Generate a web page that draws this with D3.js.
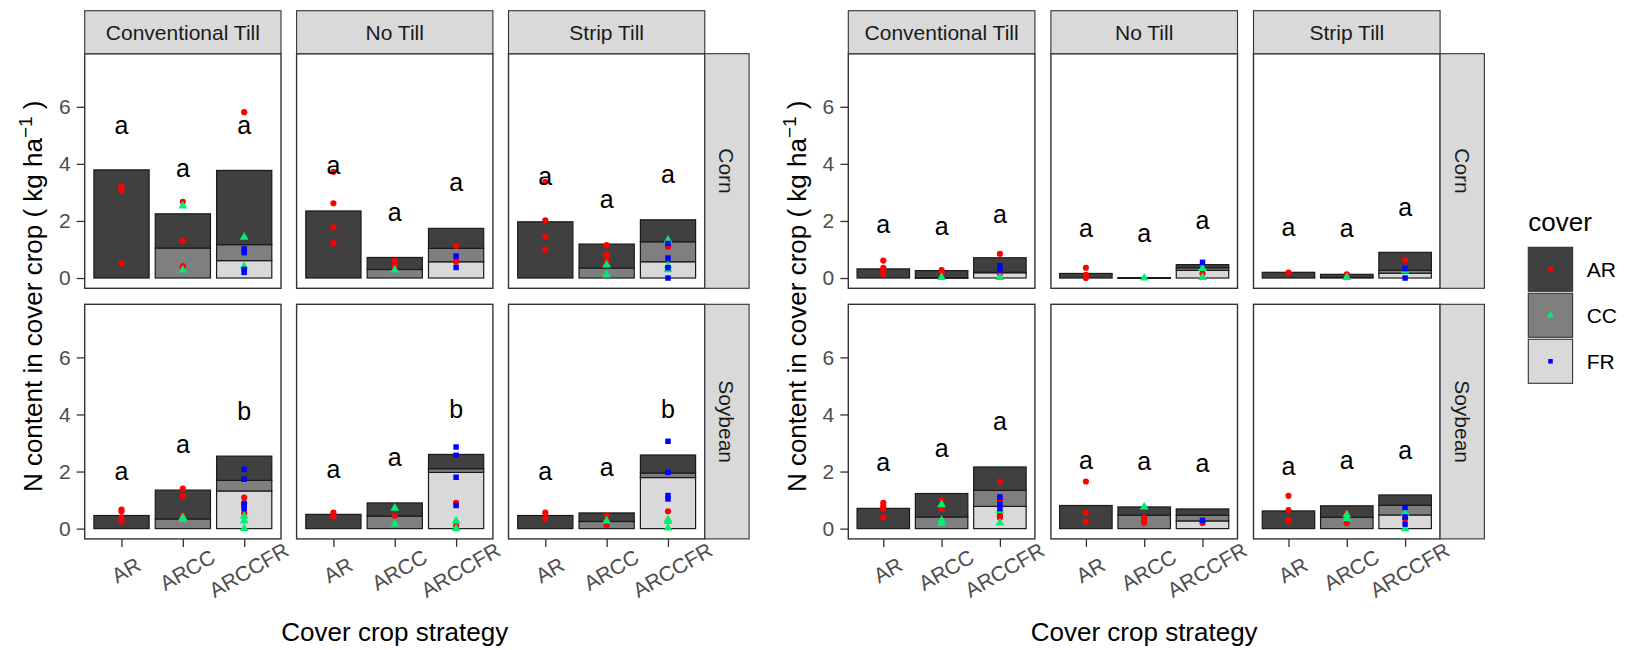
<!DOCTYPE html>
<html lang="en">
<head>
<meta charset="UTF-8">
<title>N content in cover crop</title>
<script src="https://cdn.jsdelivr.net/npm/d3@7"></script>
<style>
    html, body {
        margin: 0;
        background: #fff;
    }
    svg text {
        font-family: "Liberation Sans", Arial, sans-serif;
    }
</style>
</head>
<body>
<div id="chart"></div>
<script>
    // ---- data ----
    const strategies = ["AR", "ARCC", "ARCCFR"];
    const tillages = ["Conventional Till", "No Till", "Strip Till"];
    const tillCodes = ["CT", "NT", "ST"];
    const crops = ["Corn", "Soybean"];
    const covers = ["AR", "CC", "FR"];
    const yTicks = [0, 2, 4, 6];

    // stacked bar pieces: [figure, crop, tillage, strategy, AR, CC, FR]
    const barRows = [
        [0, "Corn", "CT", "AR", 3.79, 0, 0],
        [0, "Corn", "CT", "ARCC", 1.20, 1.05, 0],
        [0, "Corn", "CT", "ARCCFR", 2.60, 0.56, 0.61],
        [0, "Corn", "NT", "AR", 2.35, 0, 0],
        [0, "Corn", "NT", "ARCC", 0.42, 0.30, 0],
        [0, "Corn", "NT", "ARCCFR", 0.70, 0.47, 0.57],
        [0, "Corn", "ST", "AR", 1.97, 0, 0],
        [0, "Corn", "ST", "ARCC", 0.84, 0.35, 0],
        [0, "Corn", "ST", "ARCCFR", 0.77, 0.70, 0.57],
        [0, "Soybean", "CT", "AR", 0.46, 0, 0],
        [0, "Soybean", "CT", "ARCC", 1.01, 0.34, 0],
        [0, "Soybean", "CT", "ARCCFR", 0.85, 0.37, 1.32],
        [0, "Soybean", "NT", "AR", 0.50, 0, 0],
        [0, "Soybean", "NT", "ARCC", 0.46, 0.44, 0],
        [0, "Soybean", "NT", "ARCCFR", 0.50, 0.13, 1.97],
        [0, "Soybean", "ST", "AR", 0.46, 0, 0],
        [0, "Soybean", "ST", "ARCC", 0.30, 0.25, 0],
        [0, "Soybean", "ST", "ARCCFR", 0.63, 0.16, 1.79],
        [1, "Corn", "CT", "AR", 0.32, 0, 0],
        [1, "Corn", "CT", "ARCC", 0.25, 0.01, 0],
        [1, "Corn", "CT", "ARCCFR", 0.51, 0.01, 0.19],
        [1, "Corn", "NT", "AR", 0.16, 0, 0],
        [1, "Corn", "NT", "ARCC", 0.01, 0.005, 0],
        [1, "Corn", "NT", "ARCCFR", 0.11, 0.09, 0.27],
        [1, "Corn", "ST", "AR", 0.20, 0, 0],
        [1, "Corn", "ST", "ARCC", 0.11, 0.02, 0],
        [1, "Corn", "ST", "ARCCFR", 0.63, 0.10, 0.17],
        [1, "Soybean", "CT", "AR", 0.71, 0, 0],
        [1, "Soybean", "CT", "ARCC", 0.82, 0.41, 0],
        [1, "Soybean", "CT", "ARCCFR", 0.82, 0.56, 0.78],
        [1, "Soybean", "NT", "AR", 0.81, 0, 0],
        [1, "Soybean", "NT", "ARCC", 0.29, 0.47, 0],
        [1, "Soybean", "NT", "ARCCFR", 0.22, 0.20, 0.27],
        [1, "Soybean", "ST", "AR", 0.62, 0, 0],
        [1, "Soybean", "ST", "ARCC", 0.40, 0.40, 0],
        [1, "Soybean", "ST", "ARCCFR", 0.36, 0.34, 0.48]
    ];

    // single observations: [figure, crop, tillage, strategy, cover, values]
    const obsRows = [
        [0, "Corn", "CT", "AR", "AR", [3.22, 3.06, 0.51]],
        [0, "Corn", "CT", "ARCC", "AR", [2.67, 1.30, 0.42, 0.36]],
        [0, "Corn", "CT", "ARCC", "CC", [2.53, 0.28]],
        [0, "Corn", "CT", "ARCCFR", "AR", [5.81, 0.98]],
        [0, "Corn", "CT", "ARCCFR", "CC", [1.43, 0.40]],
        [0, "Corn", "CT", "ARCCFR", "FR", [1.02, 0.89, 0.30, 0.20]],
        [0, "Corn", "NT", "AR", "AR", [3.72, 2.62, 1.78, 1.22]],
        [0, "Corn", "NT", "ARCC", "AR", [0.60, 0.42]],
        [0, "Corn", "NT", "ARCC", "CC", [0.28]],
        [0, "Corn", "NT", "ARCCFR", "AR", [1.13, 0.63, 0.57]],
        [0, "Corn", "NT", "ARCCFR", "FR", [0.77, 0.37]],
        [0, "Corn", "ST", "AR", "AR", [3.37, 2.02, 1.45, 0.99]],
        [0, "Corn", "ST", "ARCC", "AR", [1.15, 0.83, 0.77, 0.57]],
        [0, "Corn", "ST", "ARCC", "CC", [0.46, 0.11]],
        [0, "Corn", "ST", "ARCCFR", "AR", [1.10]],
        [0, "Corn", "ST", "ARCCFR", "CC", [1.33, 0.43, 0.29]],
        [0, "Corn", "ST", "ARCCFR", "FR", [1.21, 0.70, 0.36, 0.0]],
        [0, "Soybean", "CT", "AR", "AR", [0.67, 0.60, 0.39, 0.25]],
        [0, "Soybean", "CT", "ARCC", "AR", [1.40, 1.14, 0.46]],
        [0, "Soybean", "CT", "ARCC", "CC", [0.39, 0.32]],
        [0, "Soybean", "CT", "ARCCFR", "AR", [1.09, 0.90, 0.53]],
        [0, "Soybean", "CT", "ARCCFR", "CC", [0.44, 0.27, 0.0]],
        [0, "Soybean", "CT", "ARCCFR", "FR", [2.08, 1.73, 0.86, 0.80, 0.70]],
        [0, "Soybean", "NT", "AR", "AR", [0.56, 0.43]],
        [0, "Soybean", "NT", "ARCC", "AR", [0.46]],
        [0, "Soybean", "NT", "ARCC", "CC", [0.72, 0.16]],
        [0, "Soybean", "NT", "ARCCFR", "AR", [0.90, 0.10]],
        [0, "Soybean", "NT", "ARCCFR", "CC", [0.27, 0.0]],
        [0, "Soybean", "NT", "ARCCFR", "FR", [2.86, 2.57, 1.80, 0.81]],
        [0, "Soybean", "ST", "AR", "AR", [0.56, 0.35]],
        [0, "Soybean", "ST", "ARCC", "AR", [0.46, 0.12]],
        [0, "Soybean", "ST", "ARCC", "CC", [0.27]],
        [0, "Soybean", "ST", "ARCCFR", "AR", [0.61]],
        [0, "Soybean", "ST", "ARCCFR", "CC", [0.32, 0.25, 0.02]],
        [0, "Soybean", "ST", "ARCCFR", "FR", [3.06, 1.97, 1.16, 1.04]],
        [1, "Corn", "CT", "AR", "AR", [0.61, 0.36, 0.25, 0.13]],
        [1, "Corn", "CT", "ARCC", "AR", [0.28, 0.19]],
        [1, "Corn", "CT", "ARCC", "CC", [0.02]],
        [1, "Corn", "CT", "ARCCFR", "AR", [0.85, 0.16]],
        [1, "Corn", "CT", "ARCCFR", "CC", [0.02]],
        [1, "Corn", "CT", "ARCCFR", "FR", [0.43, 0.28]],
        [1, "Corn", "NT", "AR", "AR", [0.36, 0.11, 0.0]],
        [1, "Corn", "NT", "ARCC", "CC", [0.0]],
        [1, "Corn", "NT", "ARCCFR", "AR", [0.16]],
        [1, "Corn", "NT", "ARCCFR", "CC", [0.34, 0.02]],
        [1, "Corn", "NT", "ARCCFR", "FR", [0.55]],
        [1, "Corn", "ST", "AR", "AR", [0.19]],
        [1, "Corn", "ST", "ARCC", "AR", [0.13]],
        [1, "Corn", "ST", "ARCC", "CC", [0.02]],
        [1, "Corn", "ST", "ARCCFR", "AR", [0.63]],
        [1, "Corn", "ST", "ARCCFR", "CC", [0.25]],
        [1, "Corn", "ST", "ARCCFR", "FR", [0.33, 0.0]],
        [1, "Soybean", "CT", "AR", "AR", [0.90, 0.78, 0.69, 0.40]],
        [1, "Soybean", "CT", "ARCC", "AR", [1.00, 0.69]],
        [1, "Soybean", "CT", "ARCC", "CC", [0.84, 0.29, 0.18]],
        [1, "Soybean", "CT", "ARCCFR", "AR", [1.65, 0.99, 0.47, 0.39]],
        [1, "Soybean", "CT", "ARCCFR", "CC", [0.64, 0.20]],
        [1, "Soybean", "CT", "ARCCFR", "FR", [1.11, 0.85, 0.70]],
        [1, "Soybean", "NT", "AR", "AR", [1.65, 0.55, 0.25]],
        [1, "Soybean", "NT", "ARCC", "AR", [0.39, 0.29, 0.21]],
        [1, "Soybean", "NT", "ARCC", "CC", [0.76]],
        [1, "Soybean", "NT", "ARCCFR", "AR", [0.20]],
        [1, "Soybean", "NT", "ARCCFR", "FR", [0.29]],
        [1, "Soybean", "ST", "AR", "AR", [1.15, 0.65, 0.32, 0.26]],
        [1, "Soybean", "ST", "ARCC", "AR", [0.54, 0.20]],
        [1, "Soybean", "ST", "ARCC", "CC", [0.48, 0.35]],
        [1, "Soybean", "ST", "ARCCFR", "AR", [0.35]],
        [1, "Soybean", "ST", "ARCCFR", "CC", [0.55, 0.0]],
        [1, "Soybean", "ST", "ARCCFR", "FR", [0.74, 0.41, 0.16]]
    ];

    // significance letters: [figure, crop, tillage, strategy, letter, y]
    const letterRows = [
        [0, "Corn", "CT", "AR", "a", 5.03], [0, "Corn", "CT", "ARCC", "a", 3.55], [0, "Corn", "CT", "ARCCFR", "a", 5.03],
        [0, "Corn", "NT", "AR", "a", 3.63], [0, "Corn", "NT", "ARCC", "a", 2.00], [0, "Corn", "NT", "ARCCFR", "a", 3.05],
        [0, "Corn", "ST", "AR", "a", 3.25], [0, "Corn", "ST", "ARCC", "a", 2.46], [0, "Corn", "ST", "ARCCFR", "a", 3.34],
        [0, "Soybean", "CT", "AR", "a", 1.72], [0, "Soybean", "CT", "ARCC", "a", 2.65], [0, "Soybean", "CT", "ARCCFR", "b", 3.82],
        [0, "Soybean", "NT", "AR", "a", 1.77], [0, "Soybean", "NT", "ARCC", "a", 2.18], [0, "Soybean", "NT", "ARCCFR", "b", 3.87],
        [0, "Soybean", "ST", "AR", "a", 1.72], [0, "Soybean", "ST", "ARCC", "a", 1.83], [0, "Soybean", "ST", "ARCCFR", "b", 3.87],
        [1, "Corn", "CT", "AR", "a", 1.59], [1, "Corn", "CT", "ARCC", "a", 1.50], [1, "Corn", "CT", "ARCCFR", "a", 1.94],
        [1, "Corn", "NT", "AR", "a", 1.45], [1, "Corn", "NT", "ARCC", "a", 1.26], [1, "Corn", "NT", "ARCCFR", "a", 1.71],
        [1, "Corn", "ST", "AR", "a", 1.46], [1, "Corn", "ST", "ARCC", "a", 1.42], [1, "Corn", "ST", "ARCCFR", "a", 2.16],
        [1, "Soybean", "CT", "AR", "a", 2.01], [1, "Soybean", "CT", "ARCC", "a", 2.51], [1, "Soybean", "CT", "ARCCFR", "a", 3.44],
        [1, "Soybean", "NT", "AR", "a", 2.09], [1, "Soybean", "NT", "ARCC", "a", 2.04], [1, "Soybean", "NT", "ARCCFR", "a", 1.97],
        [1, "Soybean", "ST", "AR", "a", 1.89], [1, "Soybean", "ST", "ARCC", "a", 2.09], [1, "Soybean", "ST", "ARCCFR", "a", 2.45]
    ];

    // ---- look ----
    const fillColor = d3.scaleOrdinal(covers, ["#404040", "#7f7f7f", "#d9d9d9"]);
    const pointColor = d3.scaleOrdinal(covers, ["#ff0000", "#00ee76", "#0000ff"]);
    const pointShape = d3.scaleOrdinal(covers, [d3.symbolCircle, d3.symbolTriangle, d3.symbolSquare]);
    const pointSize = d3.scaleOrdinal(covers, [30, 34, 30]);

    const width = 1631, height = 650;
    const stripTop = 10.7, rowTop = [53.7, 304.3], rowH = 234.6;
    const figures = [
        { x0: 84.7, panelW: 196.3, gap: 15.6, titleX: 42 },
        { x0: 848.3, panelW: 186.6, gap: 16.0, titleX: 806 }
    ];

    const svg = d3.select("#chart").append("svg")
        .attr("width", width)
        .attr("height", height);

    const stack = d3.stack().keys(["FR", "CC", "AR"]);

    figures.forEach((fig, fi) => {
        const g = svg.append("g");
        const right = fig.x0 + 3 * fig.panelW + 2 * fig.gap;

        crops.forEach((crop, ri) => {
            const py = rowTop[ri];
            const y = d3.scaleLinear().domain([-0.36, 7.86]).range([py + rowH, py]);

            tillCodes.forEach((till, ci) => {
                const px = fig.x0 + ci * (fig.panelW + fig.gap);
                const x = d3.scalePoint().domain(strategies).range([px, px + fig.panelW]).padding(0.6);
                const barW = x.step() * 0.9;
                const panel = g.append("g");

                panel.append("rect")
                    .attr("x", px).attr("y", py)
                    .attr("width", fig.panelW).attr("height", rowH)
                    .attr("fill", "#fff");

                // stacked bars
                const rows = barRows
                    .filter(d => d[0] === fi && d[1] === crop && d[2] === till)
                    .map(d => ({ strategy: d[3], AR: d[4], CC: d[5], FR: d[6] }));
                const layers = stack(rows);
                layers.forEach(layer => {
                    panel.append("g")
                        .selectAll("rect")
                        .data(layer.filter(s => s[1] - s[0] > 0))
                        .join("rect")
                        .attr("x", s => x(s.data.strategy) - barW / 2)
                        .attr("width", barW)
                        .attr("y", s => y(s[1]))
                        .attr("height", s => Math.max(0.5, y(s[0]) - y(s[1])))
                        .attr("fill", fillColor(layer.key))
                        .attr("stroke", "#1a1a1a")
                        .attr("stroke-width", 1.2);
                });

                // observations
                const pts = [];
                obsRows
                    .filter(d => d[0] === fi && d[1] === crop && d[2] === till)
                    .forEach(d => d[5].forEach(v => pts.push({ strategy: d[3], cover: d[4], value: v })));
                panel.append("g")
                    .selectAll("path")
                    .data(pts)
                    .join("path")
                    .attr("transform", d => `translate(${x(d.strategy)},${y(d.value)})`)
                    .attr("d", d => d3.symbol(pointShape(d.cover), pointSize(d.cover))())
                    .attr("fill", d => pointColor(d.cover));

                // letters
                panel.append("g")
                    .selectAll("text")
                    .data(letterRows.filter(d => d[0] === fi && d[1] === crop && d[2] === till))
                    .join("text")
                    .attr("x", d => x(d[3]))
                    .attr("y", d => y(d[5]))
                    .attr("text-anchor", "middle")
                    .attr("font-size", 25)
                    .attr("fill", "#000")
                    .text(d => d[4]);

                panel.append("rect")
                    .attr("x", px).attr("y", py)
                    .attr("width", fig.panelW).attr("height", rowH)
                    .attr("fill", "none")
                    .attr("stroke", "#333")
                    .attr("stroke-width", 1.4);

                // top strips
                if (ri === 0) {
                    g.append("rect")
                        .attr("x", px).attr("y", stripTop)
                        .attr("width", fig.panelW).attr("height", py - stripTop)
                        .attr("fill", "#d9d9d9")
                        .attr("stroke", "#333")
                        .attr("stroke-width", 1.1);
                    g.append("text")
                        .attr("x", px + fig.panelW / 2)
                        .attr("y", (stripTop + py) / 2)
                        .attr("text-anchor", "middle")
                        .attr("dominant-baseline", "central")
                        .attr("font-size", 21)
                        .attr("fill", "#1a1a1a")
                        .text(tillages[ci]);
                }

                // y axis on first column
                if (ci === 0) {
                    const ax = g.append("g")
                        .attr("transform", `translate(${px},0)`)
                        .call(d3.axisLeft(y).tickValues(yTicks).tickSize(8).tickPadding(6));
                    ax.select(".domain").remove();
                    ax.selectAll("line").attr("stroke", "#333").attr("stroke-width", 1.3);
                    ax.selectAll("text")
                        .attr("font-size", 21)
                        .attr("fill", "#4d4d4d")
                        .attr("font-family", "Liberation Sans, Arial, sans-serif");
                }

                // x axis on bottom row
                if (ri === crops.length - 1) {
                    const ax = g.append("g")
                        .attr("transform", `translate(0,${py + rowH})`)
                        .call(d3.axisBottom(x).tickSize(8));
                    ax.select(".domain").remove();
                    ax.selectAll("line").attr("stroke", "#333").attr("stroke-width", 1.3);
                    ax.selectAll("text")
                        .attr("y", 0)
                        .attr("dy", null)
                        .attr("text-anchor", "middle")
                        .attr("dominant-baseline", "central")
                        .attr("transform", "translate(4,31) rotate(-30)")
                        .attr("font-size", 21)
                        .attr("fill", "#4d4d4d")
                        .attr("font-family", "Liberation Sans, Arial, sans-serif");
                }
            });

            // right-hand strip
            g.append("rect")
                .attr("x", right).attr("y", py)
                .attr("width", 44.3).attr("height", rowH)
                .attr("fill", "#d9d9d9")
                .attr("stroke", "#333")
                .attr("stroke-width", 1.1);
            g.append("text")
                .attr("transform", `translate(${right + 22},${py + rowH / 2}) rotate(90)`)
                .attr("text-anchor", "middle")
                .attr("dominant-baseline", "central")
                .attr("font-size", 21)
                .attr("fill", "#1a1a1a")
                .text(crop);
        });

        // axis titles
        const yTitle = g.append("text")
            .attr("transform", `translate(${fig.titleX},${(rowTop[0] + rowTop[1] + rowH) / 2}) rotate(-90)`)
            .attr("text-anchor", "middle")
            .attr("font-size", 26)
            .attr("fill", "#000");
        yTitle.append("tspan").text("N content in cover crop ( kg ha");
        yTitle.append("tspan").attr("dy", -10).attr("font-size", 19).text("\u22121");
        yTitle.append("tspan").attr("dy", 10).text(" )");

        g.append("text")
            .attr("x", (fig.x0 + right) / 2)
            .attr("y", 641)
            .attr("text-anchor", "middle")
            .attr("font-size", 26)
            .attr("fill", "#000")
            .text("Cover crop strategy");
    });

    // legend
    const legend = svg.append("g").attr("transform", "translate(1528.3,0)");
    legend.append("text")
        .attr("x", 0).attr("y", 231)
        .attr("font-size", 26)
        .attr("fill", "#000")
        .text("cover");
    const key = legend.selectAll("g.key")
        .data(covers)
        .join("g")
        .attr("class", "key")
        .attr("transform", (d, i) => `translate(0,${247.3 + i * 46})`);
    key.append("rect")
        .attr("width", 44.3).attr("height", 44)
        .attr("fill", d => fillColor(d))
        .attr("stroke", "#333")
        .attr("stroke-width", 1.1);
    key.append("path")
        .attr("transform", "translate(22.2,22)")
        .attr("d", d => d3.symbol(pointShape(d), pointSize(d) * 0.7)())
        .attr("fill", d => pointColor(d));
    key.append("text")
        .attr("x", 58.4).attr("y", 22)
        .attr("dominant-baseline", "central")
        .attr("font-size", 21)
        .attr("fill", "#000")
        .text(d => d);
</script>
</body>
</html>
